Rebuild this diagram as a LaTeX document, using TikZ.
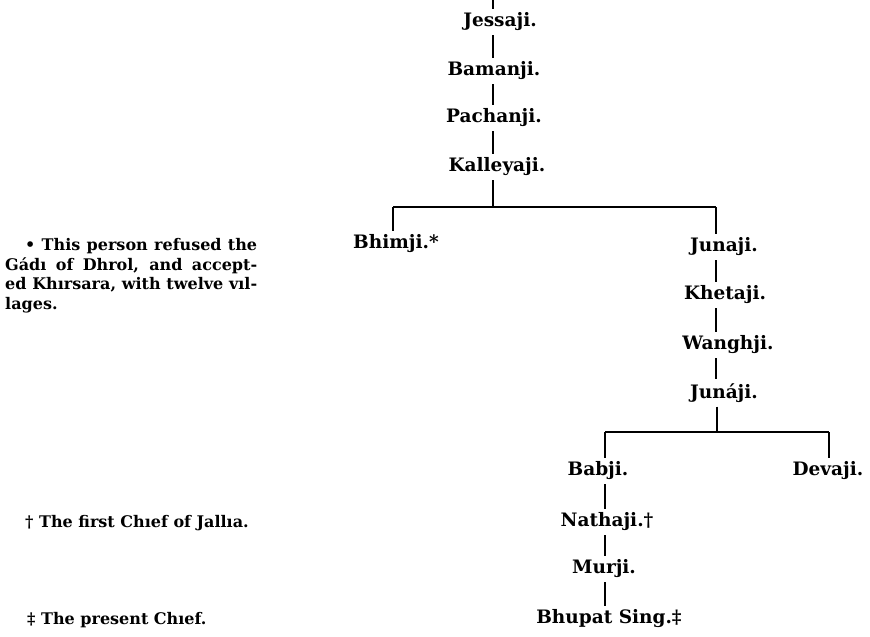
\documentclass[tikz,border=0pt]{standalone}
\usepackage{fontspec}
\setmainfont{DejaVu Serif}
\begin{document}
\begin{tikzpicture}[x=1pt,y=-1pt,
  person/.style={font=\bfseries\fontsize{18.5}{22}\selectfont, inner xsep=0pt, inner ysep=4pt, anchor=center},
  note/.style={font=\bfseries\fontsize{16}{19.7}\selectfont, inner sep=0pt},
  link/.style={line width=1.7pt},
  bar/.style={line width=1.3pt}]
\useasboundingbox (0,0) rectangle (870,637);
% names
\node[person] (jes)  at (500,22)  {Jessaji.};
\node[person] (bam)  at (494,71)  {Bamanji.};
\node[person] (pac)  at (494,118) {Pachanji.};
\node[person] (kal)  at (497,167) {Kalleyaji.};
\node[person] (bhi)  at (396,244) {Bhimji.*};
\node[person] (jun)  at (724,247) {Junaji.};
\node[person] (khe)  at (725,295) {Khetaji.};
\node[person] (wan)  at (728,345) {Wanghji.};
\node[person] (juna) at (724,393) {Junáji.};
\node[person] (bab)  at (598,471) {Babji.};
\node[person] (dev)  at (828,471) {Devaji.};
\node[person] (nat)  at (607,522) {Nathaji.†};
\node[person] (mur)  at (604,569) {Murji.};
\node[person] (bhu)  at (609,619) {Bhupat Sing.‡};
% junction points
\coordinate (top) at (493,0);
\coordinate (c1) at (493,207);
\coordinate (l1) at (393,207);
\coordinate (r1) at (716,207);
\coordinate (c2) at (717,432);
\coordinate (l2) at (605,432);
\coordinate (r2) at (829,432);
% connectors
\draw[link] (top) -- (jes.north -| top);
\draw[link] (jes.south -| top) -- (bam.north -| top);
\draw[link] (bam.south -| top) -- (pac.north -| top);
\draw[link] (pac.south -| top) -- (kal.north -| top);
\draw[link] (kal.south -| c1) -- (c1);
\draw[bar] (l1) -- (r1);
\draw[link] (l1) -- (l1 |- bhi.north);
\draw[link] (r1) -- (r1 |- jun.north);
\draw[link] (jun.south -| r1) -- (khe.north -| r1);
\draw[link] (khe.south -| r1) -- (wan.north -| r1);
\draw[link] (wan.south -| r1) -- (juna.north -| r1);
\draw[link] (juna.south -| c2) -- (c2);
\draw[bar] (l2) -- (r2);
\draw[link] (l2) -- (l2 |- bab.north);
\draw[link] (r2) -- (r2 |- dev.north);
\draw[link] (bab.south -| l2) -- (nat.north -| l2);
\draw[link] (nat.south -| l2) -- (mur.north -| l2);
\draw[link] (mur.south -| l2) -- (bhu.north -| l2);
% footnotes
\node[note, anchor=north west, text width=252pt, align=justify] (fn1) at (5,238)
  {\hspace*{20pt}• This person refused the\linebreak Gádı of Dhrol, and accept-\linebreak ed Khırsara, with twelve vıl-\linebreak lages.};
\node[note, anchor=base west] (fn2) at (25,527) {† The first Chıef of Jallıa.};
\node[note, anchor=base west] (fn3) at (27,624) {‡ The present Chıef.};
\end{tikzpicture}
\end{document}
